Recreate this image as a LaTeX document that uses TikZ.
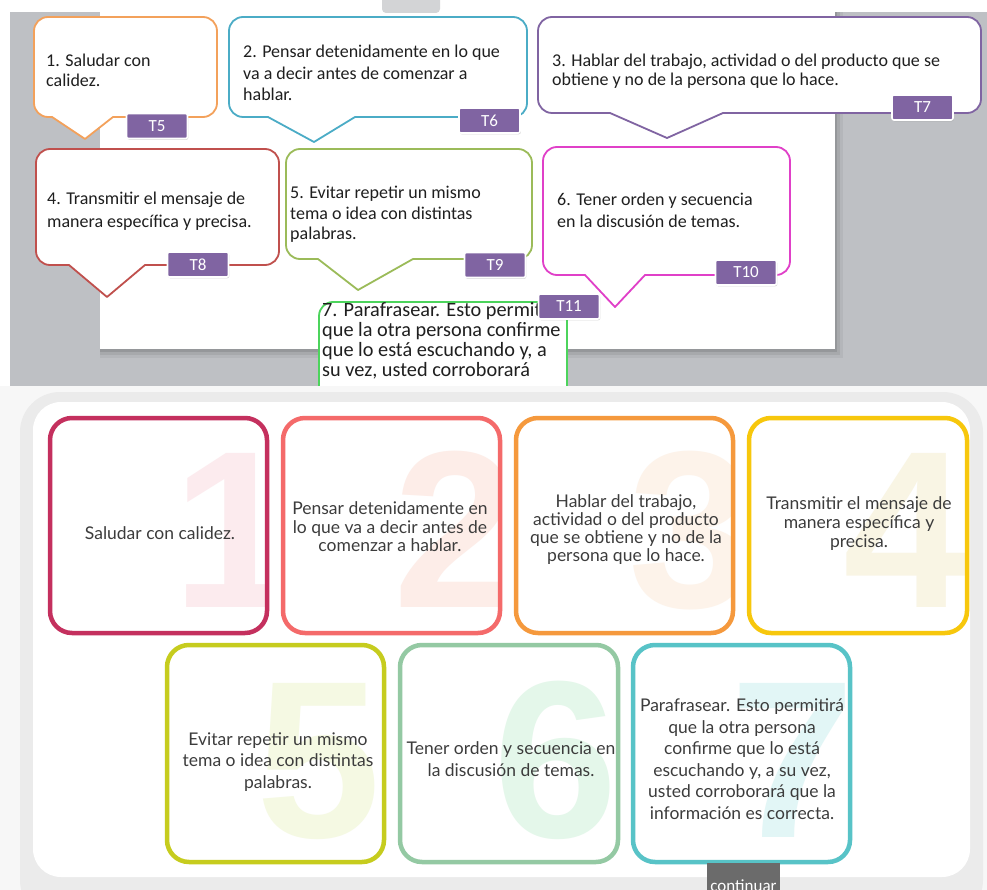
\documentclass[tikz,border=0pt]{standalone}
\usepackage{fontspec}
\newfontfamily\callfont{Carlito}
\newfontfamily\cardfont{Lato}
\newfontfamily\digitfont{Liberation Sans}
\usetikzlibrary{shadows}

% palette
\definecolor{deskgray}{HTML}{BEC0C4}
\definecolor{tabgray}{HTML}{D3D4D6}
\definecolor{tagpurple}{HTML}{8064A2}
\definecolor{calltxt}{HTML}{1F1F1F}
\definecolor{cardtxt}{HTML}{3C3C3C}
\definecolor{ca}{HTML}{F3A15B}
\definecolor{cb}{HTML}{4BACC6}
\definecolor{cc}{HTML}{8064A2}
\definecolor{cd}{HTML}{C0504D}
\definecolor{ce}{HTML}{9BBB59}
\definecolor{cf}{HTML}{E040C8}
\definecolor{cg}{HTML}{4CD45C}
\definecolor{ba}{HTML}{C4305E}
\definecolor{bb}{HTML}{F46A6A}
\definecolor{bc}{HTML}{F5993D}
\definecolor{bd}{HTML}{F7C70C}
\definecolor{be}{HTML}{C6CC1E}
\definecolor{bf}{HTML}{94C9A3}
\definecolor{bg}{HTML}{58C3C7}
\definecolor{da}{HTML}{FCEBEE}
\definecolor{db}{HTML}{FDEDE8}
\definecolor{dc}{HTML}{FDF3EA}
\definecolor{dd}{HTML}{F9F5E4}
\definecolor{de}{HTML}{F5F9E3}
\definecolor{df}{HTML}{E4F7EA}
\definecolor{dg}{HTML}{E2F6F6}
\definecolor{outerbg}{HTML}{F7F7F7}
\definecolor{bandgray}{HTML}{EBEBEB}
\definecolor{btngray}{HTML}{6B6B6B}

\tikzset{
  bubbleline/.style={line width=1.8pt, fill=white, line join=round},
  calltext/.style={anchor=north west, inner sep=0pt, align=left, text=calltxt,
    font=\callfont\fontsize{18}{#1}\selectfont},
  tagbox/.style={fill=tagpurple, draw=white, line width=1.6pt, rounded corners=2pt,
    text=white, font=\callfont\fontsize{17}{17}\selectfont,
    minimum width=61pt, minimum height=25pt, inner sep=0pt,
    drop shadow={opacity=0.3, shadow xshift=0.8pt, shadow yshift=-1.3pt}},
  card/.style={line width=4.5pt, rounded corners=22pt},
  cardtext/.style={inner sep=0pt, align=center, text=cardtxt,
    font=\cardfont\fontsize{17.5}{#1}\selectfont},
  bignum/.style={anchor=base east, inner sep=0pt,
    font=\digitfont\bfseries\fontsize{224}{224}\selectfont},
}

% speech bubble: colour, x1, y1, x2, y2, pointer left, tip x, tip y, pointer right
\newcommand\bubble[9]{%
  \draw[bubbleline, draw=#1]
    (#2+14,#3) -- (#4-14,#3) arc[start angle=270, end angle=360, radius=14]
    -- (#4,#5-14) arc[start angle=0, end angle=90, radius=14]
    -- (#9,#5) -- (#7,#8) -- (#6,#5)
    -- (#2+14,#5) arc[start angle=90, end angle=180, radius=14]
    -- (#2,#3+14) arc[start angle=180, end angle=270, radius=14] -- cycle;}

% numbered card: name, colour, digit colour, digit, x1, y1, x2, y2, digit base point
\newcommand\numcard[9]{%
  \fill[white, rounded corners=22pt] (#5,#6) rectangle (#7,#8);
  \begin{scope}
    \clip[rounded corners=22pt] (#5,#6) rectangle (#7,#8);
    \node[bignum, text=#3] (#1) at (#9) {#4};
  \end{scope}
  \draw[card, draw=#2] (#5,#6) rectangle (#7,#8);}

\begin{document}
\begin{tikzpicture}[x=1pt, y=-1pt]
\clip (0,0) rectangle (987,890);
\fill[white] (0,0) rectangle (987,890);

% ---------- upper panel: slide with speech bubbles ----------
\begin{scope}
  \clip (0,0) rectangle (987,386);
  \fill[deskgray] (10,12) rectangle (987,386);
  \fill[black, opacity=0.05] (100,12) rectangle (843,358);
  \fill[black, opacity=0.07] (100,12) rectangle (840,355);
  \fill[black, opacity=0.10] (100,12) rectangle (837,352);
  \fill[white] (100,12) rectangle (835,349);
  \fill[tabgray, rounded corners=4pt] (382,-8) rectangle (440,13);

  \bubble{ca}{34}{17}{217}{117}{52}{85}{139}{113}
  \bubble{cb}{229}{17}{527}{117}{268}{314}{142}{355}
  \bubble{cc}{538}{17}{981}{113}{610}{667}{138}{723}
  \bubble{cd}{36}{149}{279}{265}{69}{107}{297}{145}
  \bubble{ce}{286}{149}{532}{259}{318}{358}{290}{413}
  \bubble{cf}{543}{147}{790}{275}{585}{615}{307}{645}
  \draw[bubbleline, draw=cg]
    (319,460) -- (319,316) arc[start angle=180, end angle=270, radius=14]
    -- (553,302) arc[start angle=270, end angle=360, radius=14] -- (567,460);

  \node[calltext=19.5] (s1) at (46,54) {1. Saludar con\\calidez.};
  \node[calltext=21.5] (s2) at (243,45) {2. Pensar detenidamente en lo que\\va a decir antes de comenzar a\\hablar.};
  \node[calltext=19] (s3) at (552,54) {3. Hablar del trabajo, actividad o del producto que se\\obtiene y no de la persona que lo hace.};
  \node[calltext=22.5] (s4) at (47,192) {4. Transmitir el mensaje de\\manera específica y precisa.};
  \node[calltext=20.5] (s5) at (290,186) {5. Evitar repetir un mismo\\tema o idea con distintas\\palabras.};
  \node[calltext=22] (s6) at (557,193) {6. Tener orden y secuencia\\en la discusión de temas.};
  \node[calltext=20, font=\callfont\fontsize{20.3}{20}\selectfont] (s7) at (322,302.5) {7. Parafrasear. Esto permitirá\\que la otra persona confirme\\que lo está escuchando y, a\\su vez, usted corroborará};

  \node[tagbox] (t5) at (157,126) {T5};
  \node[tagbox] (t6) at (489.5,120.5) {T6};
  \node[tagbox] (t7) at (922.5,107.5) {T7};
  \node[tagbox] (t8) at (198,264.5) {T8};
  \node[tagbox] (t9) at (495,265) {T9};
  \node[tagbox] (t10) at (746,272.5) {T10};
  \node[tagbox] (t11) at (569,306.5) {T11};
\end{scope}

% ---------- lower panel: numbered cards ----------
\fill[outerbg] (0,386) rectangle (987,890);
\fill[bandgray, rounded corners=40pt] (20,392) rectangle (983,920);
\fill[white, rounded corners=28pt] (33,402) rectangle (970,877);

\numcard{n1}{ba}{da}{1}{50}{418}{267}{633}{297,607}
\numcard{n2}{bb}{db}{2}{283}{418}{500}{633}{518,607}
\numcard{n3}{bc}{dc}{3}{516}{418}{733}{633}{753,607}
\numcard{n4}{bd}{dd}{4}{749}{418}{967}{633}{968,607}
\numcard{n5}{be}{de}{5}{167}{645}{384}{862}{381,837}
\numcard{n6}{bf}{df}{6}{400}{645}{618}{862}{618,837}
\numcard{n7}{bg}{dg}{7}{633}{645}{850}{862}{855,837}

\node[cardtext=20] (k1) at (160,533) {Saludar con calidez.};
\node[cardtext=18.5] (k2) at (390,527) {Pensar detenidamente en\\lo que va a decir antes de\\comenzar a hablar.};
\node[cardtext=18] (k3) at (626,530) {Hablar del trabajo,\\actividad o del producto\\que se obtiene y no de la\\persona que lo hace.};
\node[cardtext=19] (k4) at (859,524) {Transmitir el mensaje de\\manera específica y\\precisa.};
\node[cardtext=21.5] (k5) at (278,762) {Evitar repetir un mismo\\tema o idea con distintas\\palabras.};
\node[cardtext=22] (k6) at (511,759) {Tener orden y secuencia en\\la discusión de temas.};
\node[cardtext=21.5] (k7) at (742,759) {Parafrasear. Esto permitirá\\que la otra persona\\confirme que lo está\\escuchando y, a su vez,\\usted corroborará que la\\información es correcta.};

% continue button
\fill[btngray] (707,863) rectangle (780,895);
\node[anchor=base, inner sep=0pt, text=white, font=\callfont\fontsize{17}{17}\selectfont] (go) at (743.5,891) {continuar};
\end{tikzpicture}
\end{document}
